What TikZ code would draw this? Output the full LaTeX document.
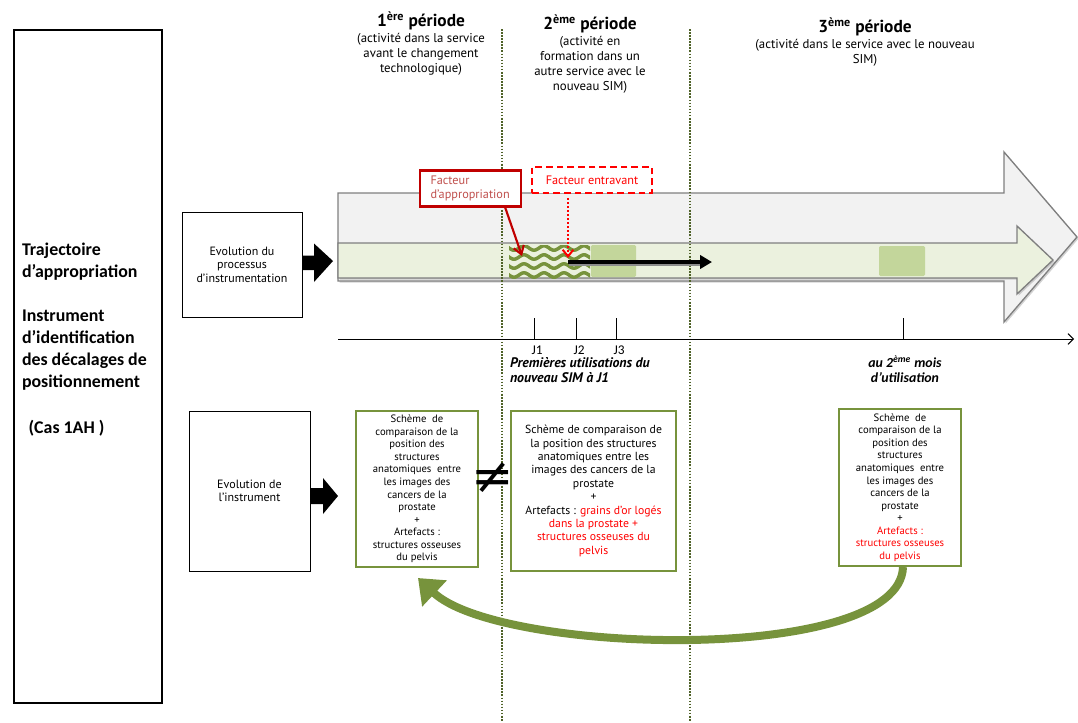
\documentclass[tikz,border=0pt]{standalone}
\usepackage{fontspec}
\setmainfont{PT Sans}
\newfontfamily\calib{Carlito}
\newfontfamily\symb{DejaVu Sans}
\usetikzlibrary{arrows.meta,shadows,calc}

\definecolor{dotgreen}{HTML}{4F6228}
\definecolor{boxgreen}{HTML}{77933C}
\definecolor{lightgreen}{HTML}{C3D69B}
\definecolor{bandgreen}{HTML}{EBF1DE}
\definecolor{arrowgrey}{HTML}{F2F2F2}
\definecolor{edgegrey}{HTML}{7F7F7F}
\definecolor{darkred}{HTML}{C00000}
\definecolor{brickred}{HTML}{C0504D}
\definecolor{brightred}{HTML}{FF0000}

\begin{document}
\begin{tikzpicture}[x=0.75pt,y=-0.75pt,
  every node/.style={inner sep=0pt,outer sep=0pt},
  blackbox/.style={draw=black,line width=0.75pt,fill=white,align=center,
    font=\fontsize{9}{10.2}\selectfont},
  schemebox/.style={draw=boxgreen,line width=0.9pt,fill=white,align=center},
  smalltext/.style={font=\fontsize{8}{9.4}\selectfont},
  bigtext/.style={font=\fontsize{8.8}{10.05}\selectfont},
  title/.style={font=\fontsize{13}{14}\selectfont\bfseries},
  subtitle/.style={align=center,font=\fontsize{9.6}{11.2}\selectfont},
  sepline/.style={draw=dotgreen,line width=1.2pt,dash pattern=on 1.2pt off 1.1pt},
  wave/.style={draw=boxgreen,line width=2.6pt},
  shade/.style={drop shadow={shadow xshift=1.2pt,shadow yshift=-1.2pt,opacity=0.35}},
  tick/.style={draw=black,line width=0.75pt},
  jlabel/.style={font=\calib\fontsize{10}{11}\selectfont},
  factor/.style={font=\fontsize{9.2}{10.5}\selectfont},
]
\useasboundingbox (0,0) rectangle (1078,722);

% ---------- left frame ----------
\node[draw=black,line width=2.2pt,minimum width=111pt,minimum height=504.75pt] (lbox) at (88,366.5) {};
\node[anchor=north west,align=left,font=\calib\bfseries\fontsize{13.4}{16.5}\selectfont] (ltext) at (22,243)
  {Trajectoire\\ d’appropriation\\[16.5pt] Instrument\\ d’identification\\ des décalages de\\ positionnement\\[18pt] \hspace*{5pt}(Cas 1AH )};

% ---------- period headings ----------
\node[title] (h1) at (421,21) {1\textsuperscript{ère} période};
\node[subtitle] (s1txt) at (421,54) {(activité dans la service\\ avant le changement\\ technologique)};
\node[title] (h2) at (590,24) {2\textsuperscript{ème} période};
\node[subtitle] (s2txt) at (590,65) {(activité en\\ formation dans un\\ autre service avec le\\ nouveau SIM)};
\node[title] (h3) at (865,27) {3\textsuperscript{ème} période};
\node[subtitle] (s3txt) at (865,52.5) {(activité dans le service avec le nouveau\\ SIM)};

% ---------- large process arrows ----------
\filldraw[fill=arrowgrey,draw=edgegrey,line width=1pt,shade]
  (338,193) -- (1004,193) -- (1004,152) -- (1077,237) -- (1004,322) -- (1004,281) -- (338,281) -- cycle;
\filldraw[fill=bandgreen,draw=edgegrey,line width=1pt,shade]
  (338,243) -- (1017,243) -- (1017,226) -- (1053,260) -- (1017,294) -- (1017,278) -- (338,278) -- cycle;

% wave blocks
\foreach \xa in {509,549}{
  \begin{scope}
    \clip (\xa,245) rectangle (\xa+41,278);
    \foreach \yy in {248,257,266,275}
      \draw[wave] plot[domain=\xa-2:\xa+43,samples=40,smooth] (\x,{\yy+2.2*sin((\x-\xa)*18)});
  \end{scope}}
\fill[lightgreen,rounded corners=1pt] (591,245) rectangle (636,277);
\fill[lightgreen,rounded corners=1pt] (879,246) rectangle (925,276);

% period separators
\draw[sepline] (502,29) -- (502,722);
\draw[sepline] (690,29) -- (690,722);

% black progression arrow
\coordinate (pstart) at (568,262);
\coordinate (pend) at (712,262);
\draw[draw=black!45,line width=4.4pt] ($(pstart)+(1,1)$) -- ($(pend)+(-8,1)$);
\draw[draw=black,line width=3pt,-{Triangle[length=9pt,width=10pt]}] (pstart) -- (pend);

% factor boxes
\node[draw=darkred,line width=1.6pt,fill=white,minimum width=75.75pt,minimum height=27pt,
  text width=60pt,align=left,text=brickred,factor] (fa) at (470.5,188.5)
  {Facteur\\ d’appropriation};
\node[draw=brightred,line width=1.8pt,dash pattern=on 5pt off 3pt,fill=white,minimum width=90pt,
  minimum height=19.5pt,text=brightred,factor] (fe) at (592,180)
  {Facteur entravant};
\coordinate (faend) at (522,256);
\draw[darkred,line width=1.6pt,-{Straight Barb[length=6pt,width=8pt]}] (505,207) -- (faend);
\coordinate (feend) at (568,258);
\draw[brightred,line width=1.5pt,dash pattern=on 1.5pt off 1.5pt,
  -{Straight Barb[length=5pt,width=8pt]}] (568,198) -- (feend);

% ---------- upper row: process box ----------
\node[blackbox,minimum width=90pt,minimum height=78.75pt] (procbox) at (242,264.5)
  {Evolution du\\ processus\\ d’instrumentation};
\fill[black] ($(procbox.east)+(0,-9)$) -- ++(12,0) -- ++(0,-12) -- ($(procbox.east)+(31,-3.5)$)
  -- ($(procbox.east)+(12,17.5)$) -- ++(0,-12) -- ($(procbox.east)+(0,5.5)$) -- cycle;

% ---------- timeline ----------
\coordinate (tstart) at (338,339);
\coordinate (tend) at (1074,339);
\draw[line width=0.75pt,-{Straight Barb[length=4pt,width=8pt]}] (tstart) -- (tend);
\foreach \tx/\nm in {534/J1,576/J2,616/J3}{
  \draw[tick] (\tx,318) -- (\tx,339);
  \node[jlabel] (lab\nm) at (\tx+3,350) {\nm};}
\draw[tick] (903,318) -- (903,339);
\node[anchor=west,align=left,font=\bfseries\itshape\fontsize{10.4}{11.3}\selectfont] (firstuse) at (510,370)
  {Premières utilisations du\\ nouveau SIM à J1};
\node[align=center,font=\calib\bfseries\itshape\fontsize{10.4}{11}\selectfont] (month) at (905,369)
  {au 2\textsuperscript{ème} mois\\ d’utilisation};

% ---------- lower row ----------
\node[blackbox,minimum width=90.75pt,minimum height=120pt] (instrbox) at (249.5,491)
  {Evolution de\\ l’instrument};
\coordinate (ia) at (311,496);
\fill[black] ($(ia)+(0,-8)$) -- ++(12,0) -- ++(0,-10) -- ($(ia)+(27,0)$) -- ($(ia)+(12,18)$)
  -- ++(0,-10) -- ($(ia)+(0,8)$) -- cycle;

\node[schemebox,minimum width=91.5pt,minimum height=117pt,smalltext] (sch1) at (417,489)
  {Schème\ \ de\\ comparaison de la\\ position des\\ structures\\ anatomiques\ \ entre\\
   les images des\\ cancers de la\\ prostate\\ +\\ Artefacts :\\ structures osseuses\\ du pelvis};

\node[font=\symb\fontsize{38}{38}\selectfont] (neq) at (493,478) {≠};

\node[schemebox,minimum width=123.75pt,minimum height=120pt,bigtext] (sch2) at (593.5,491)
  {Schème de comparaison de\\ la position des structures\\ anatomiques entre les\\ images des cancers de la\\
   prostate\\ +\\ Artefacts : \textcolor{brightred}{grains d’or logés}\\
   \textcolor{brightred}{dans la prostate +}\\ \textcolor{brightred}{structures osseuses du}\\
   \textcolor{brightred}{pelvis}};

\node[schemebox,minimum width=91.5pt,minimum height=117.75pt,smalltext] (sch3) at (900,487.5)
  {Schème\ \ de\\ comparaison de la\\ position des\\ structures\\ anatomiques\ \ entre\\
   les images des\\ cancers de la\\ prostate\\ +\\ \textcolor{brightred}{Artefacts :}\\
   \textcolor{brightred}{structures osseuses}\\ \textcolor{brightred}{du pelvis}};

% return arrow from the third to the first scheme
\draw[boxgreen,line width=6pt,-{Triangle[length=17pt,width=26pt]}]
  ($(sch3.south)+(3,1)$) .. controls (900,665) and (500,655) .. ($(sch1.south)+(1,11)$);

\end{tikzpicture}
\end{document}
